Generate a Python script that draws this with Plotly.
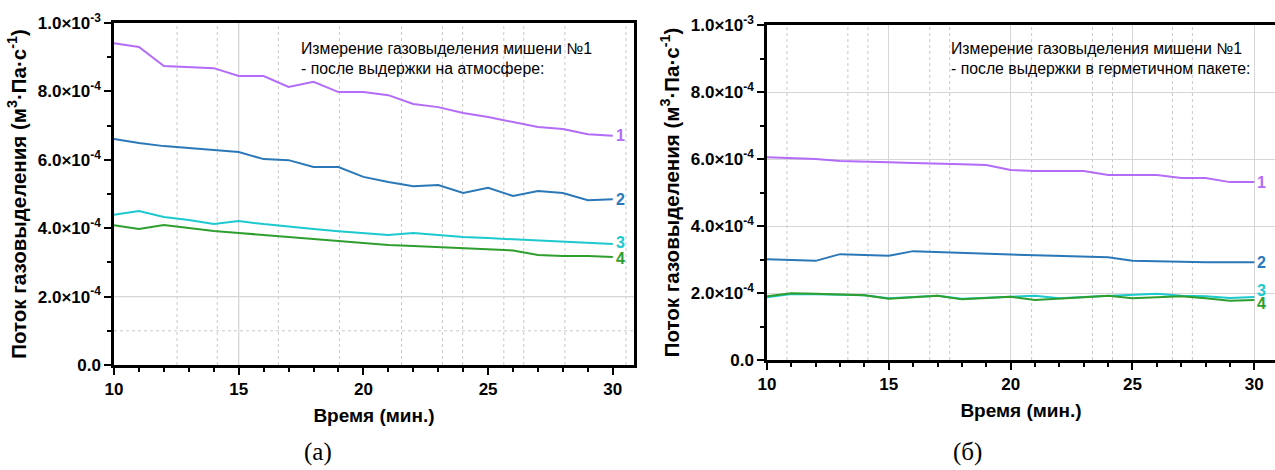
import plotly.graph_objects as go

# ---------------- data ----------------
time_min = list(range(10, 31))

# panel (a): after exposure to atmosphere (values in units of 1e-3 m3·Pa·s^-1)
a_curve1 = [0.941, 0.930, 0.874, 0.872, 0.868, 0.845, 0.845, 0.813, 0.828, 0.798, 0.798,
            0.789, 0.763, 0.754, 0.737, 0.725, 0.711, 0.696, 0.690, 0.675, 0.670]
a_curve2 = [0.661, 0.649, 0.640, 0.635, 0.629, 0.623, 0.602, 0.599, 0.579, 0.579, 0.550,
            0.535, 0.523, 0.526, 0.503, 0.518, 0.494, 0.509, 0.503, 0.482, 0.485]
a_curve3 = [0.439, 0.450, 0.433, 0.424, 0.412, 0.421, 0.412, 0.404, 0.398, 0.391, 0.386,
            0.380, 0.386, 0.380, 0.374, 0.371, 0.368, 0.363, 0.360, 0.357, 0.354]
a_curve4 = [0.409, 0.398, 0.409, 0.400, 0.392, 0.386, 0.380, 0.374, 0.368, 0.362, 0.357,
            0.351, 0.348, 0.345, 0.342, 0.339, 0.335, 0.322, 0.319, 0.319, 0.316]

# panel (б): after storage in sealed package
b_curve1 = [0.605, 0.603, 0.600, 0.594, 0.591, 0.590, 0.588, 0.585, 0.584, 0.582, 0.567,
            0.564, 0.564, 0.564, 0.552, 0.552, 0.552, 0.543, 0.543, 0.531, 0.531]
b_curve2 = [0.301, 0.299, 0.296, 0.316, 0.313, 0.311, 0.325, 0.322, 0.320, 0.318, 0.315,
            0.313, 0.311, 0.310, 0.307, 0.296, 0.294, 0.294, 0.292, 0.292, 0.292]
b_curve3 = [0.187, 0.197, 0.196, 0.195, 0.193, 0.184, 0.188, 0.192, 0.183, 0.187, 0.189,
            0.192, 0.184, 0.188, 0.192, 0.194, 0.198, 0.192, 0.190, 0.185, 0.188]
b_curve4 = [0.190, 0.199, 0.198, 0.196, 0.193, 0.183, 0.188, 0.192, 0.181, 0.185, 0.189,
            0.179, 0.182, 0.187, 0.192, 0.184, 0.187, 0.190, 0.184, 0.177, 0.179]

SCALE = 1e-3
curve_labels = ["1", "2", "3", "4"]
y_tick_vals = [0, 2e-4, 4e-4, 6e-4, 8e-4, 1e-3]
y_tick_text = ["0.0", "2.0×10<sup>-4</sup>", "4.0×10<sup>-4</sup>", "6.0×10<sup>-4</sup>",
               "8.0×10<sup>-4</sup>", "1.0×10<sup>-3</sup>"]
x_tick_vals = [10, 15, 20, 25, 30]

title_a = ["Измерение газовыделения мишени №1", "- после выдержки на атмосфере:"]
title_b = ["Измерение газовыделения мишени №1", "- после выдержки в герметичном пакете:"]
y_title = "Поток газовыделения (м<sup>3</sup>·Па·с<sup>-1</sup>)"
x_title = "Время (мин.)"
captions = ["(а)", "(б)"]

# ---------------- style ----------------
colors = ["#B36CF7", "#2B78B8", "#1CC9CF", "#2E9E2E"]
FONT = "Liberation Sans, Arial, sans-serif"
GRID = "#D6D6D6"

# odd grid positions of the original (Origin) panels
a_dash_x = [12.53, 14.14, 16.59, 19.04, 21.53, 23.17, 23.98, 25.63, 26.43, 28.08, 30.53]
b_dash_x = [10.82, 13.32, 14.14, 16.68, 17.5, 20.86, 23.36, 24.18, 26.64, 27.46]

fig = go.Figure()

panels = [
    ("x", "y", [a_curve1, a_curve2, a_curve3, a_curve4]),
    ("x2", "y2", [b_curve1, b_curve2, b_curve3, b_curve4]),
]
for xa, ya, curves in panels:
    for c, vals in enumerate(curves):
        fig.add_trace(go.Scatter(
            x=time_min, y=[v * SCALE for v in vals], xaxis=xa, yaxis=ya,
            mode="lines", line=dict(color=colors[c], width=2),
            showlegend=False, hoverinfo="skip"))

shapes = []
# panel a grid
for gx in a_dash_x:
    shapes.append(dict(type="line", xref="x", yref="y domain", x0=gx, x1=gx, y0=0, y1=1,
                       line=dict(color="#C8C8C8", width=1, dash="dot"), layer="below"))
shapes.append(dict(type="line", xref="x", yref="y domain", x0=15, x1=15, y0=0, y1=1,
                   line=dict(color=GRID, width=1.3), layer="below"))
shapes.append(dict(type="line", xref="x domain", yref="y", x0=0, x1=1, y0=2e-4, y1=2e-4,
                   line=dict(color=GRID, width=1.3), layer="below"))
shapes.append(dict(type="line", xref="x domain", yref="y", x0=0, x1=1, y0=1e-4, y1=1e-4,
                   line=dict(color="#C8C8C8", width=1, dash="dot"), layer="below"))
# panel b grid
for gx in b_dash_x:
    shapes.append(dict(type="line", xref="x2", yref="y2 domain", x0=gx, x1=gx, y0=0, y1=1,
                       line=dict(color="#C8C8C8", width=1, dash="dot"), layer="below"))

annotations = []
# curve end labels
a_label_y = [0.670, 0.485, 0.358, 0.312]
b_label_y = [0.531, 0.292, 0.208, 0.168]
for xa, ya, ly in [("x", "y", a_label_y), ("x2", "y2", b_label_y)]:
    for c in range(4):
        annotations.append(dict(
            x=time_min[-1], y=ly[c] * SCALE, xref=xa, yref=ya, text="<b>%s</b>" % curve_labels[c],
            showarrow=False, xanchor="left", xshift=1,
            font=dict(family=FONT, size=16, color=colors[c])))

# panel inscriptions
for xpx, lines in [(299, title_a), (949, title_b)]:
    for i, t in enumerate(lines):
        annotations.append(dict(
            x=xpx / 1275, y=1 - (48 + 20 * i) / 470, xref="paper", yref="paper",
            text=t, showarrow=False, xanchor="left", yanchor="middle",
            font=dict(family=FONT, size=15.8, color="black")))

# captions
for xpx, t in [(318, captions[0]), (968, captions[1])]:
    annotations.append(dict(
        x=xpx / 1275, y=1 - 452 / 470, xref="paper", yref="paper", text=t,
        showarrow=False, xanchor="center", yanchor="middle",
        font=dict(family="Liberation Serif, Times New Roman, serif", size=25, color="black")))


def xaxis_cfg(domain, anchor, grid):
    return dict(
        domain=domain, anchor=anchor, range=[10, 30.85], automargin=False,
        tickvals=x_tick_vals, ticktext=["<b>%d</b>" % v for v in x_tick_vals],
        ticks="outside", ticklen=7, tickwidth=2, tickcolor="black",
        minor=dict(dtick=1, tick0=10, ticks="outside", ticklen=4, tickwidth=1.5, tickcolor="black"),
        showline=True, linecolor="black", linewidth=2.5, mirror=True,
        showgrid=grid, gridcolor=GRID, gridwidth=1.3, zeroline=False,
        tickfont=dict(family=FONT, size=17, color="black"),
        title=dict(text="<b>%s</b>" % x_title, font=dict(family=FONT, size=19, color="black"), standoff=11),
    )


def yaxis_cfg(domain, anchor, grid):
    return dict(
        domain=domain, anchor=anchor, range=[0, 1e-3], automargin=False,
        tickvals=y_tick_vals, ticktext=["<b>%s</b>" % t for t in y_tick_text],
        ticks="outside", ticklen=7, tickwidth=2, tickcolor="black",
        minor=dict(dtick=1e-4, tick0=0, ticks="outside", ticklen=4, tickwidth=1.5, tickcolor="black"),
        showline=True, linecolor="black", linewidth=2.5, mirror=True,
        showgrid=grid, gridcolor=GRID, gridwidth=1.3, zeroline=False,
        tickfont=dict(family=FONT, size=17, color="black"),
        title=dict(text="<b>%s</b>" % y_title, font=dict(family=FONT, size=20.5, color="black"), standoff=6),
    )


fig.update_layout(
    width=1275, height=470,
    margin=dict(l=0, r=0, t=0, b=0, autoexpand=False),
    paper_bgcolor="white", plot_bgcolor="white",
    xaxis=xaxis_cfg([114 / 1275, 634 / 1275], "y", False),
    yaxis=yaxis_cfg([105 / 470, 447 / 470], "x", False),
    xaxis2=xaxis_cfg([767 / 1275, 1.0], "y2", True),
    yaxis2=yaxis_cfg([110 / 470, 445 / 470], "x2", True),
    shapes=shapes, annotations=annotations,
)

fig.write_html(
    "out.html",
    config={"displayModeBar": False},
    post_script="document.body.style.margin='0px';document.body.style.overflow='hidden';",
)
